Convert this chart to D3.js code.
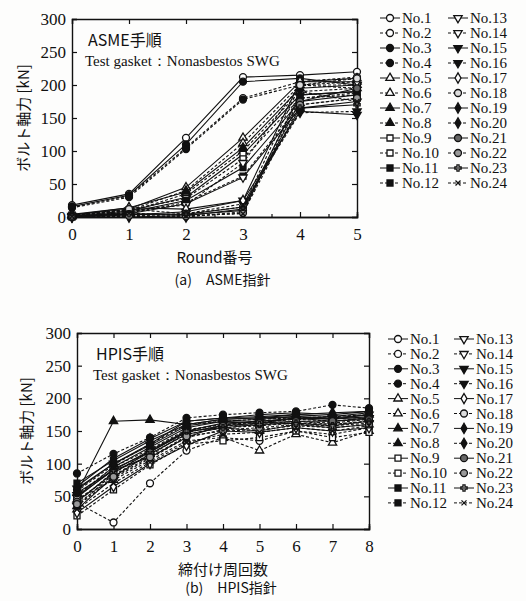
<!DOCTYPE html>
<html>
<head>
<meta charset="utf-8">
<script src="https://cdn.jsdelivr.net/npm/d3@7"></script>
<style>
  body { margin: 0; background: #fdfdfc; }
  svg { display: block; }
  text { font-family: "Liberation Serif", "Times New Roman", "DejaVu Serif", serif; fill: #111; }
  .jp { font-family: "Noto Sans CJK JP", "Liberation Serif", sans-serif; }
</style>
</head>
<body>
<svg id="chart" width="526" height="601"></svg>
<script>
// series labels No.1 .. No.24
const seriesNames = d3.range(1, 25).map(i => `No.${i}`);

// (a) ASME procedure, rounds 0..5, bolt force [kN]
const roundsA = [0, 1, 2, 3, 4, 5];
const valuesA = [
  [18, 35, 120, 212, 215, 220],
  [15, 32, 105, 180, 205, 212],
  [16, 33, 110, 205, 210, 200],
  [14, 30, 103, 178, 200, 195],
  [3, 12, 45, 120, 205, 210],
  [2, 10, 40, 112, 200, 205],
  [4, 14, 38, 105, 195, 200],
  [1, 8, 35, 100, 190, 195],
  [2, 9, 30, 95, 185, 190],
  [3, 11, 28, 88, 180, 188],
  [1, 7, 25, 75, 175, 185],
  [0, 6, 22, 62, 170, 180],
  [2, 5, 20, 60, 165, 175],
  [1, 10, 18, 82, 200, 200],
  [0, 3, 8, 25, 160, 155],
  [0, 2, 5, 20, 158, 160],
  [3, 14, 12, 25, 205, 205],
  [2, 12, 5, 15, 200, 210],
  [0, 0, 2, 12, 185, 190],
  [0, 1, 0, 8, 180, 185],
  [1, 4, 3, 10, 175, 195],
  [0, 2, 1, 6, 170, 180],
  [0, 5, 4, 15, 165, 170],
  [1, 6, 2, 5, 190, 175]
];

// (b) HPIS procedure, tightening passes 0..8, bolt force [kN]
const roundsB = [0, 1, 2, 3, 4, 5, 6, 7, 8];
const valuesB = [
  [50, 90, 110, 140, 160, 165, 170, 165, 170],
  [40, 10, 70, 120, 140, 135, 150, 145, 155],
  [60, 100, 130, 165, 170, 175, 178, 175, 180],
  [85, 115, 140, 170, 175, 178, 180, 190, 185],
  [30, 80, 115, 145, 155, 150, 160, 155, 160],
  [45, 75, 105, 135, 140, 120, 145, 132, 150],
  [55, 165, 167, 160, 168, 170, 172, 168, 175],
  [35, 85, 120, 150, 160, 158, 165, 162, 168],
  [50, 95, 125, 155, 165, 162, 170, 168, 172],
  [20, 60, 98, 130, 135, 140, 150, 140, 148],
  [70, 105, 135, 160, 168, 170, 175, 172, 178],
  [40, 88, 112, 148, 158, 160, 165, 160, 165],
  [48, 92, 118, 150, 162, 165, 168, 170, 170],
  [35, 78, 108, 140, 152, 155, 160, 158, 162],
  [62, 100, 128, 158, 165, 168, 172, 170, 175],
  [52, 95, 122, 152, 160, 163, 168, 165, 170],
  [25, 65, 100, 128, 150, 148, 155, 150, 155],
  [45, 82, 115, 145, 155, 158, 162, 160, 165],
  [65, 108, 138, 165, 170, 172, 175, 178, 180],
  [58, 98, 130, 160, 165, 168, 170, 172, 175],
  [42, 86, 118, 148, 158, 162, 165, 165, 168],
  [38, 80, 110, 142, 150, 152, 158, 155, 160],
  [55, 90, 120, 150, 155, 160, 162, 158, 165],
  [30, 70, 102, 132, 145, 148, 155, 150, 158]
];

const yTicks = [0, 50, 100, 150, 200, 250, 300];

// marker shape + fill for each series (odd = solid line, even = dashed)
const markerShapes = ['circle', 'circle', 'circle', 'circle', 'triangle', 'triangle', 'triangle', 'triangle',
  'square', 'square', 'square', 'square', 'tridown', 'tridown', 'tridown', 'tridown',
  'diamond', 'circle', 'diamond', 'diamond', 'circle', 'circle', 'cross', 'star'];
const markerFills = ['#fff', '#fff', '#111', '#111', '#fff', '#fff', '#111', '#111',
  '#fff', '#fff', '#111', '#111', '#fff', '#fff', '#111', '#111',
  '#fff', '#ddd', '#111', '#111', '#666', '#999', 'none', 'none'];

const ink = '#111';
const serif = '"Liberation Serif", "Times New Roman", "DejaVu Serif", serif';
const svg = d3.select('#chart');

const symbolFor = shape => {
  if (shape === 'circle') return d3.symbol(d3.symbolCircle, 38);
  if (shape === 'triangle') return d3.symbol(d3.symbolTriangle, 30);
  if (shape === 'square') return d3.symbol(d3.symbolSquare, 36);
  if (shape === 'diamond') return d3.symbol(d3.symbolDiamond, 30);
  if (shape === 'cross') return d3.symbol(d3.symbolCross, 22);
  if (shape === 'star') return d3.symbol(d3.symbolTimes, 18);
  // down triangle: rotate the up one later
  return d3.symbol(d3.symbolTriangle, 30);
};

const drawMarker = (g, i, x, y) => {
  const shape = markerShapes[i];
  g.append('path')
    .attr('d', symbolFor(shape)())
    .attr('transform', `translate(${x},${y})` + (shape === 'tridown' ? ' rotate(180)' : ''))
    .attr('fill', markerFills[i] === 'none' ? 'none' : markerFills[i])
    .attr('stroke', ink)
    .attr('stroke-width', 1.3);
};

function drawPanel(opt) {
  const x = d3.scaleLinear().domain([0, opt.xMax]).range([opt.left, opt.right]);
  const y = d3.scaleLinear().domain([0, 300]).range([opt.bottom, opt.top]);
  const g = svg.append('g');

  // frame + inward ticks on all sides
  g.append('g').attr('transform', `translate(0,${opt.bottom})`)
    .call(d3.axisBottom(x).tickValues(opt.minorX).tickSize(-3).tickFormat(''));
  g.append('g').attr('transform', `translate(0,${opt.bottom})`)
    .call(d3.axisBottom(x).tickValues(opt.rounds).tickSize(-5).tickPadding(11).tickFormat(d3.format('d')));
  g.append('g').attr('transform', `translate(0,${opt.top})`)
    .call(d3.axisTop(x).tickValues(opt.rounds).tickSize(-5).tickFormat(''));
  g.append('g').attr('transform', `translate(${opt.left},0)`)
    .call(d3.axisLeft(y).tickValues(yTicks).tickSize(-5).tickPadding(6));
  g.append('g').attr('transform', `translate(${opt.right},0)`)
    .call(d3.axisRight(y).tickValues(yTicks).tickSize(-5).tickFormat(''));
  g.selectAll('g').attr('font-family', serif);
  g.selectAll('.tick text').style('font-size', '17px').attr('fill', ink);
  g.selectAll('.domain').attr('stroke', ink).attr('stroke-width', 1.4);
  g.selectAll('.tick line').attr('stroke', ink).attr('stroke-width', 1.2);

  // series
  const line = d3.line().x((d, k) => x(opt.rounds[k])).y(d => y(d));
  opt.values.forEach((vals, i) => {
    g.append('path')
      .attr('d', line(vals))
      .attr('fill', 'none')
      .attr('stroke', ink)
      .attr('stroke-width', 1.1)
      .attr('stroke-dasharray', i % 2 === 1 ? '3,2' : null);
  });
  opt.values.forEach((vals, i) => {
    vals.forEach((v, k) => drawMarker(g, i, x(opt.rounds[k]), y(v)));
  });

  // in-plot captions
  g.append('text').attr('class', 'jp').attr('x', opt.left + opt.capDx).attr('y', opt.top + 27)
    .style('font-size', '16px').text(opt.procLabel);
  g.append('text').attr('x', opt.left + opt.capDx - 3).attr('y', opt.top + 47)
    .style('font-size', '15px').text('Test gasket：Nonasbestos SWG');

  // axis titles
  g.append('text').attr('class', 'jp')
    .attr('transform', `translate(${opt.yLabelX},${(opt.top + opt.bottom) / 2}) rotate(-90)`)
    .attr('text-anchor', 'middle').attr('dominant-baseline', 'middle')
    .style('font-size', '15px').text('ボルト軸力 [kN]');
  g.append('text').attr('class', 'jp')
    .attr('x', (opt.left + opt.right) / 2).attr('y', opt.bottom + 46)
    .attr('text-anchor', 'middle').style('font-size', '15px').text(opt.xLabel);
  g.append('text').attr('class', 'jp')
    .attr('x', (opt.left + opt.right) / 2 + 8).attr('y', opt.bottom + opt.capY)
    .attr('text-anchor', 'middle').style('font-size', '14px').text(opt.caption);

  // legend, two columns of 12
  const lg = svg.append('g');
  seriesNames.forEach((name, i) => {
    const col = Math.floor(i / 12), row = i % 12;
    const lx = opt.legendX + col * opt.legendColW;
    const ly = opt.legendY + row * opt.legendRowH;
    lg.append('line').attr('x1', lx - 10).attr('x2', lx + 10).attr('y1', ly).attr('y2', ly)
      .attr('stroke', ink).attr('stroke-width', 1)
      .attr('stroke-dasharray', i % 2 === 1 ? '3,2' : null);
    drawMarker(lg, i, lx, ly);
    lg.append('text').attr('x', lx + 12).attr('y', ly + 5)
      .style('font-size', '15px').style('font-family', serif).text(name);
  });
}

drawPanel({
  left: 72, right: 357, top: 19, bottom: 217,
  xMax: 5, rounds: roundsA, minorX: d3.range(0.5, 5, 1), values: valuesA,
  procLabel: 'ASME手順', capDx: 16, yLabelX: 25,
  xLabel: 'Round番号', caption: '(a)　ASME指針', capY: 68,
  legendX: 390, legendY: 18, legendColW: 68, legendRowH: 15
});

drawPanel({
  left: 77, right: 369, top: 333, bottom: 529,
  xMax: 8, rounds: roundsB, minorX: [], values: valuesB,
  procLabel: 'HPIS手順', capDx: 19, yLabelX: 28,
  xLabel: '締付け周回数', caption: '(b)　HPIS指針', capY: 64,
  legendX: 398, legendY: 339, legendColW: 66, legendRowH: 14.9
});
</script>
</body>
</html>
